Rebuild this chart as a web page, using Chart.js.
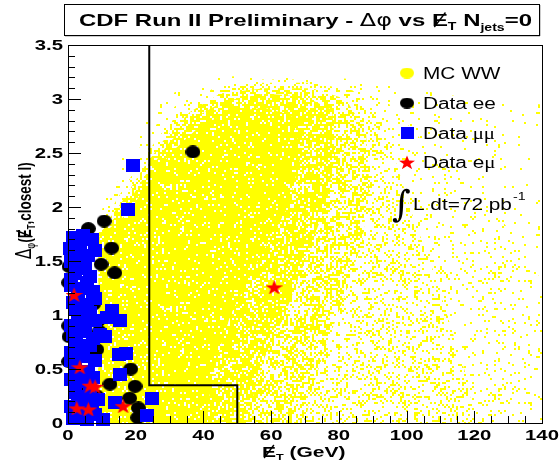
<!DOCTYPE html>
<html>
<head>
<meta charset="utf-8">
<script src="https://cdn.jsdelivr.net/npm/chart.js@4.4.1/dist/chart.umd.min.js"></script>
<style>
  html, body { margin: 0; padding: 0; background: #fff; }
  canvas { display: block; }
</style>
</head>
<body>
<canvas id="dphiChart" width="559" height="468"></canvas>
<script>
// axis ranges and tick labels
const xRange = [0, 140];
const yRange = [0, 3.5];
const xTickLabels = ['0', '20', '40', '60', '80', '100', '120', '140'];
const yTickLabels = ['0', '0.5', '1', '1.5', '2', '2.5', '3', '3.5'];

// MC WW density contours [MET, dphi], outer sparse edge first, dense core last
const mcLevel1 = [[9,1.85],[12,2.2],[16,2.5],[22,2.78],[28,2.98],[34,3.12],[42,3.2],[55,3.22],[70,3.22],[85,3.18],[100,3.1],[120,3.0],[140,2.95],[140,0],[9,0]];
const mcLevel2 = [[9,1.8],[14,2.2],[20,2.5],[27,2.8],[34,3.0],[42,3.15],[55,3.18],[72,3.18],[86,3.12],[95,2.95],[105,2.6],[115,2.3],[125,2.0],[135,1.6],[140,1.3],[140,0],[9,0]];
const mcLevel3 = [[9,1.78],[15,2.1],[21,2.4],[28,2.7],[35,2.95],[43,3.1],[55,3.15],[72,3.15],[84,3.08],[92,2.85],[97,2.4],[102,1.9],[108,1.4],[113,0.9],[118,0.4],[120,0],[9,0]];
const mcLevel4 = [[9,1.76],[16,2.05],[22,2.35],[29,2.65],[36,2.88],[45,3.05],[58,3.1],[72,3.1],[82,3.0],[88,2.7],[89,2.2],[87,1.7],[82,1.2],[76,0.7],[72,0.3],[70,0],[9,0]];
const mcLevel5 = [[9,1.75],[17,2.0],[23,2.3],[30,2.6],[37,2.82],[46,2.98],[58,3.05],[70,3.02],[78,2.9],[79,2.5],[76,2.0],[70,1.5],[64,1.0],[58,0.6],[55,0.3],[54,0],[9,0]];
const mcLevel6 = [[9,1.72],[18,1.95],[24,2.25],[31,2.52],[38,2.72],[47,2.88],[58,2.92],[66,2.85],[69,2.5],[65,2.0],[56,1.5],[48,1.0],[44,0.6],[42,0.3],[41,0],[9,0]];
const mcLevels = [mcLevel1, mcLevel2, mcLevel3, mcLevel4, mcLevel5, mcLevel6];
const mcLevelCover = [0.025, 0.06, 0.15, 0.35, 0.5, 0.6];

// data events [MET (GeV), dphi]
const dataEE = [
  [36.9,2.51],[10.7,1.87],[6.0,1.80],[12.9,1.62],[9.8,1.47],[13.8,1.39],[0.3,1.45],[0.2,1.30],
  [7.5,1.10],[9.0,0.95],[9.2,0.85],[0.2,0.90],[8.5,0.68],[0.3,0.80],[0.2,0.57],[18.5,0.50],
  [12.4,0.36],[19.8,0.34],[18.2,0.23],[20.8,0.14],[20.6,0.05],[8.5,0.25],[7.0,0.65],[3.0,0.30]
];
const dataMuMu = [
  [19.3,2.38],[17.6,1.98],
  [1.5,1.72],[4.5,1.74],[7.0,1.70],[0.5,1.62],[3.5,1.60],[8.0,1.60],[1.0,1.50],[5.0,1.48],
  [2.0,1.38],[6.5,1.36],[0.8,1.27],[4.0,1.25],[7.5,1.22],[1.5,1.12],[5.5,1.10],[13.0,1.04],
  [15.5,0.95],[11.5,0.98],[3.0,1.00],[8.0,0.95],[1.0,0.90],[5.0,0.85],[9.5,0.82],[11.0,0.80],
  [2.5,0.76],[6.5,0.72],[1.0,0.65],[4.5,0.62],[15.0,0.63],[17.0,0.64],[8.0,0.58],[2.0,0.52],
  [6.0,0.48],[15.5,0.45],[1.0,0.40],[4.0,0.38],[7.5,0.42],[2.0,0.28],[5.5,0.25],[9.0,0.22],
  [14.0,0.19],[24.7,0.23],[1.0,0.15],[4.5,0.10],[8.0,0.08],[1.5,0.04],[5.5,0.03],[10.4,0.03],[23.3,0.07],
  [3.0,1.68],[6.0,1.55],[3.0,1.43],[1.0,1.33],[5.5,1.30],[3.0,1.18],[8.0,1.15],[2.5,1.06],
  [6.5,1.02],[4.0,0.93],[1.5,0.82],[7.5,0.78],[4.5,0.70],[1.0,0.58],[3.0,0.46],[6.5,0.33],
  [3.0,0.20],[7.0,0.14],[2.5,0.09]
];
const dataEMu = [[1.8,1.19],[3.5,0.52],[6.5,0.35],[8.0,0.34],[2.6,0.14],[6.0,0.13],[16.3,0.16],[60.9,1.26]];

// cut boundary
const cutX = [24, 24, 50, 50];
const cutY = [3.5, 0.35, 0.35, 0];

const SANS = '"Liberation Sans", Arial, sans-serif';

function toXY(list) {
  return list.map(([x, y]) => ({ x, y }));
}

// speckle texture for the MC scatter: tiny yellow dots at a given coverage
function speckle(cover, seed) {
  const c = document.createElement('canvas');
  c.width = 126; c.height = 122;
  const g = c.getContext('2d');
  g.fillStyle = '#ffff00';
  for (let j = 0; j < 61; j++) {
    for (let i = 0; i < 63; i++) {
      const s = Math.sin(i * 127.1 + j * 311.7 + seed * 74.7) * 43758.5453;
      if (s - Math.floor(s) < cover) g.fillRect(i * 2, j * 2, 2, 2);
    }
  }
  return g.createPattern(c, 'repeat');
}

function ellipseMarker(color, w, h) {
  const c = document.createElement('canvas');
  c.width = w; c.height = h;
  const g = c.getContext('2d');
  g.fillStyle = color;
  g.beginPath();
  g.ellipse(w / 2, h / 2, w / 2, h / 2, 0, 0, Math.PI * 2);
  g.fill();
  return c;
}

function squareMarker(color, w, h) {
  const c = document.createElement('canvas');
  c.width = w; c.height = h;
  const g = c.getContext('2d');
  g.fillStyle = color;
  g.fillRect(0, 0, w, h);
  return c;
}

function starMarker(color, w, h) {
  const c = document.createElement('canvas');
  c.width = w; c.height = h;
  const g = c.getContext('2d');
  const R = h / 2 + 0.6, r = R * 0.4, sx = w / h;
  g.fillStyle = color;
  g.beginPath();
  for (let i = 0; i < 10; i++) {
    const a = -Math.PI / 2 + i * Math.PI / 5;
    const rad = i % 2 ? r : R;
    g.lineTo(w / 2 + sx * rad * Math.cos(a), h / 2 + 1 + rad * Math.sin(a));
  }
  g.closePath();
  g.fill();
  return c;
}

const eeMarker = ellipseMarker('#000000', 15, 13);
const mumuMarker = squareMarker('#0000ff', 14, 13);
const emuMarker = starMarker('#ff0000', 17, 15);
const mcMarker = ellipseMarker('#ffff00', 14, 11);
const eeLegend = ellipseMarker('#000000', 14, 11);
const mumuLegend = squareMarker('#0000ff', 13, 12);
const emuLegend = starMarker('#ff0000', 16, 14);

// stretched text helper, returns drawn width
function txt(ctx, s, x, y, font, sx, align) {
  ctx.save();
  ctx.font = font;
  ctx.textAlign = align || 'left';
  ctx.textBaseline = 'alphabetic';
  ctx.translate(x, y);
  ctx.scale(sx, 1);
  ctx.fillText(s, 0, 0);
  const w = ctx.measureText(s).width * sx;
  ctx.restore();
  return w;
}

function measure(ctx, s, font) {
  ctx.save();
  ctx.font = font;
  const w = ctx.measureText(s).width;
  ctx.restore();
  return w;
}

// draws a run of pieces, E with a slash for missing ET
function drawRun(ctx, pieces, x, y, sx) {
  let cx = x;
  pieces.forEach(p => {
    const w = txt(ctx, p.t, cx, y + (p.dy || 0), p.f, sx);
    if (p.slash) {
      ctx.save();
      ctx.strokeStyle = '#000';
      ctx.lineWidth = 1.4;
      ctx.beginPath();
      ctx.moveTo(cx + w * 0.15, y + 1);
      ctx.lineTo(cx + w * 0.85, y - p.cap - 1);
      ctx.stroke();
      ctx.restore();
    }
    cx += w;
  });
  return cx - x;
}

function runWidth(ctx, pieces) {
  return pieces.reduce((s, p) => s + measure(ctx, p.t, p.f), 0);
}

const rootStyle = {
  id: 'rootStyle',
  afterDraw(chart) {
    const ctx = chart.ctx;
    const xs = chart.scales.x, ys = chart.scales.y;
    const a = chart.chartArea;
    ctx.save();
    ctx.fillStyle = '#000';

    // frame
    ctx.strokeStyle = '#000';
    ctx.lineWidth = 1;
    ctx.strokeRect(Math.round(a.left) + 0.5, Math.round(a.top) + 0.5,
      Math.round(a.right - a.left), Math.round(a.bottom - a.top));

    // inside ticks
    ctx.beginPath();
    for (let v = 0; v <= 140.01; v += 5) {
      const px = Math.round(xs.getPixelForValue(v)) + 0.5;
      const len = (Math.round(v) % 20 === 0) ? 12 : 7;
      ctx.moveTo(px, a.bottom);
      ctx.lineTo(px, a.bottom - len);
    }
    for (let k = 0; k <= 35; k++) {
      const py = Math.round(ys.getPixelForValue(k / 10)) + 0.5;
      const len = (k % 5 === 0) ? 13 : 7;
      ctx.moveTo(a.left, py);
      ctx.lineTo(a.left + len, py);
    }
    ctx.stroke();

    // tick labels
    const tickFont = 'bold 14px ' + SANS;
    xTickLabels.forEach(l => {
      txt(ctx, l, xs.getPixelForValue(parseFloat(l)), 440, tickFont, 1.45, 'center');
    });
    yTickLabels.forEach(l => {
      txt(ctx, l, 63, ys.getPixelForValue(parseFloat(l)) + 5, tickFont, 1.45, 'right');
    });

    // x axis title
    const bold15 = 'bold 15px ' + SANS;
    drawRun(ctx, [
      { t: 'E', f: bold15, slash: true, cap: 11 },
      { t: 'T', f: 'bold 9px ' + SANS, dy: 3 },
      { t: ' (GeV)', f: bold15 }
    ], 262, 457, 1.4);

    // y axis title, rotated
    ctx.save();
    ctx.translate(31, 259);
    ctx.rotate(-Math.PI / 2);
    ctx.scale(1, 1.4);
    const bold13 = 'bold 13.5px ' + SANS;
    drawRun(ctx, [
      { t: 'Δ', f: '15px "DejaVu Sans"' },
      { t: 'φ', f: '9px "DejaVu Sans"', dy: 3 },
      { t: '(', f: bold13 },
      { t: 'E', f: bold13, slash: true, cap: 9.5 },
      { t: 'T', f: 'bold 8px ' + SANS, dy: 3 },
      { t: ',closest l)', f: bold13 }
    ], 0, 0, 1);
    ctx.restore();

    // title box
    ctx.fillStyle = '#fff';
    ctx.fillRect(64, 4, 475, 31);
    ctx.fillStyle = '#000';
    ctx.fillRect(65, 35, 475, 1.2);
    ctx.fillRect(539, 5, 1.2, 31);
    ctx.strokeStyle = '#000';
    ctx.strokeRect(64.5, 4.5, 475, 31);
    const b17 = 'bold 17px ' + SANS;
    const titlePieces = [
      { t: 'CDF Run II Preliminary - ', f: b17 },
      { t: 'Δφ', f: '17px "DejaVu Sans"' },
      { t: ' vs ', f: b17 },
      { t: 'E', f: b17, slash: true, cap: 12.5 },
      { t: 'T', f: 'bold 10px ' + SANS, dy: 4 },
      { t: ' N', f: b17 },
      { t: 'jets', f: 'bold 10px ' + SANS, dy: 5 },
      { t: '=0', f: b17 }
    ];
    const tsx = 453 / runWidth(ctx, titlePieces);
    drawRun(ctx, titlePieces, 79, 26, tsx);

    // legend
    const leg = '16px ' + SANS;
    const rows = [
      { m: mcMarker, y: 73, text: [{ t: 'MC WW', f: leg }] },
      { m: eeLegend, y: 103, text: [{ t: 'Data ee', f: leg }] },
      { m: mumuLegend, y: 133, text: [{ t: 'Data ', f: leg }, { t: 'μμ', f: '16px "Liberation Serif"' }] },
      { m: emuLegend, y: 162, text: [{ t: 'Data e', f: leg }, { t: 'μ', f: '16px "Liberation Serif"' }] }
    ];
    rows.forEach(r => {
      ctx.drawImage(r.m, 407 - r.m.width / 2, r.y - r.m.height / 2);
      drawRun(ctx, r.text, 423, r.y + 6, 1.3);
    });
    txt(ctx, '∫', 392, 216, '36px "DejaVu Serif"', 1, 'left');
    const lw = txt(ctx, 'L dt=72 pb', 413, 210, leg, 1.3);
    txt(ctx, '-1', 413 + lw + 1, 200, '11px ' + SANS, 1.3);

    ctx.restore();
  }
};

const mcDatasets = mcLevels.map((lvl, i) => ({
  type: 'line',
  label: 'MC WW ' + (i + 1),
  data: toXY(lvl),
  fill: 'shape',
  backgroundColor: speckle(mcLevelCover[i], i + 1),
  borderWidth: 0,
  borderColor: 'rgba(0,0,0,0)',
  pointRadius: 0,
  tension: 0,
  order: 20 - i
}));

const cutDataset = {
  type: 'line',
  label: 'cut',
  data: cutX.map((x, i) => ({ x, y: cutY[i] })),
  borderColor: '#000',
  borderWidth: 2,
  pointRadius: 0,
  fill: false,
  tension: 0,
  order: 5
};

function markerSet(label, list, marker, order) {
  return {
    label,
    data: toXY(list),
    pointStyle: marker,
    pointRadius: 7,
    clip: 10,
    order
  };
}

new Chart(document.getElementById('dphiChart'), {
  type: 'scatter',
  data: {
    datasets: [
      ...mcDatasets,
      cutDataset,
      markerSet('Data ee', dataEE, eeMarker, 3),
      markerSet('Data μμ', dataMuMu, mumuMarker, 2),
      markerSet('Data eμ', dataEMu, emuMarker, 1)
    ]
  },
  options: {
    responsive: false,
    animation: false,
    devicePixelRatio: 1,
    layout: { padding: { left: 68, right: 17, top: 45, bottom: 45 } },
    scales: {
      x: { type: 'linear', min: xRange[0], max: xRange[1], display: false },
      y: { type: 'linear', min: yRange[0], max: yRange[1], display: false }
    },
    plugins: {
      legend: { display: false },
      tooltip: { enabled: false },
      title: { display: false }
    }
  },
  plugins: [rootStyle]
});
</script>
</body>
</html>
